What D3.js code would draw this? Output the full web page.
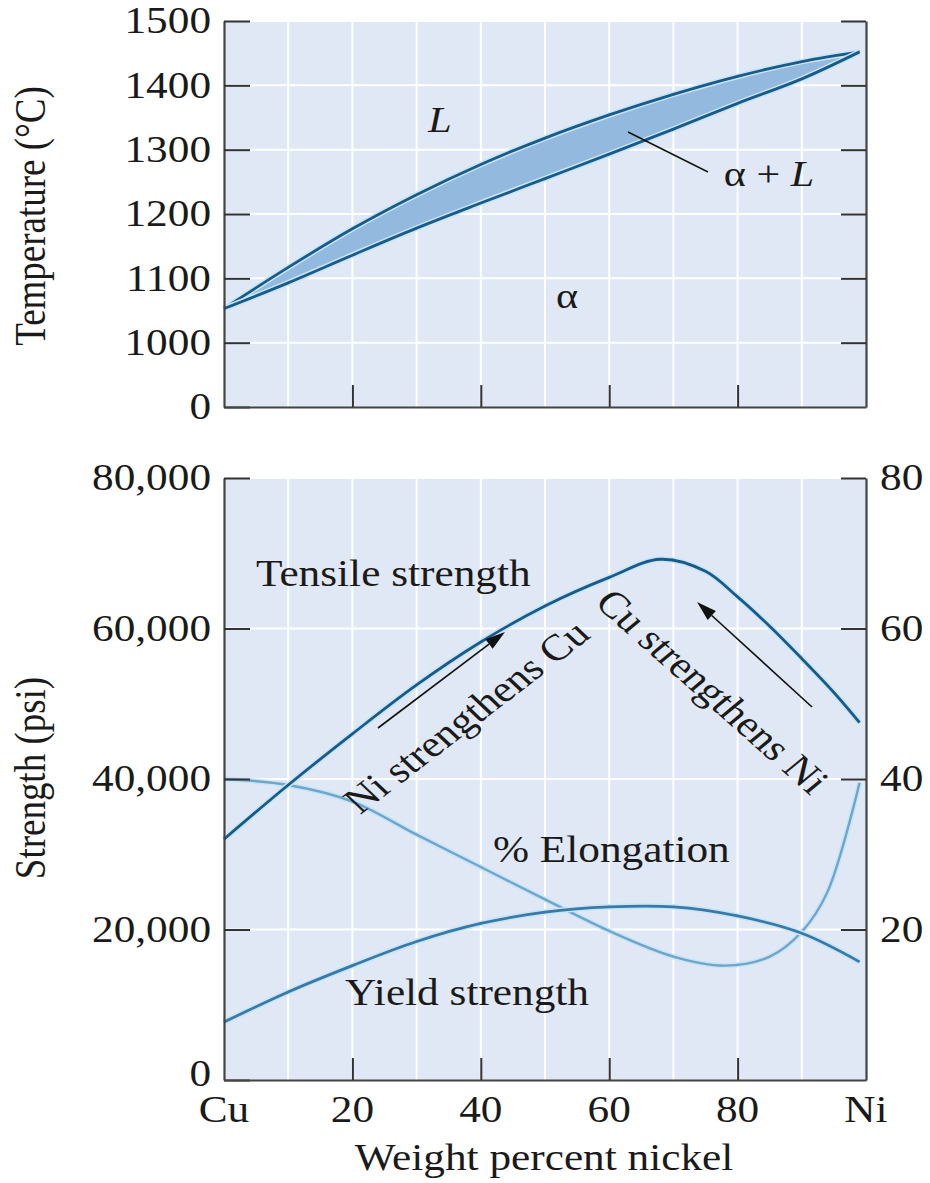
<!DOCTYPE html>
<html lang="en">
<head>
  <meta charset="UTF-8">
  <title>Cu-Ni phase diagram and mechanical properties</title>
  <script src="https://d3js.org/d3.v7.min.js"></script>
  <style>
    body { margin: 0; background: #fff; }
    svg text { font-family: "Liberation Serif", "DejaVu Serif", serif; fill: #1a1a1a; }
  </style>
</head>
<body>
  <svg width="930" height="1183"></svg>

  <script>
    // ---- data ----
    const phasePct = [0, 10, 20, 30, 40, 50, 60, 70, 80, 90, 99];
    const liquidus = [1053, 1117, 1177, 1230, 1277, 1318, 1354, 1386, 1414, 1437, 1452];
    const solidus  = [1053, 1093, 1136, 1178, 1217, 1255, 1293, 1332, 1372, 1410, 1452];

    const tensilePct = [0, 10, 20, 30, 40, 50, 60, 68, 75, 80, 85, 90, 95, 99];
    const tensile    = [32000, 39200, 46000, 52500, 58200, 63000, 66800, 69200, 67600, 64200, 60300, 56000, 51500, 47500];

    const yieldPct = [0, 10, 20, 30, 40, 50, 60, 70, 80, 90, 99];
    const yieldStr = [7700, 11700, 15200, 18400, 20800, 22300, 23000, 23000, 21800, 19500, 15700];

    const elongPct   = [0, 10, 20, 30, 40, 50, 60, 70, 78, 85, 90, 94, 99];
    const elongation = [40, 39.2, 37, 32.6, 28.3, 24, 19.8, 16.4, 15.2, 16.4, 19.7, 25, 39.5];

    const tempTicks   = [900, 1000, 1100, 1200, 1300, 1400, 1500];   // 900 slot is the broken-axis "0"
    const strTicks    = [0, 20000, 40000, 60000, 80000];
    const elongTicks  = [20, 40, 60, 80];
    const nickelTicks = [0, 20, 40, 60, 80, 100];
    const nickelLabels = ["Cu", "20", "40", "60", "80", "Ni"];

    const SX = 1.17;          // the scan is stretched sideways
    const FS = 37;

    const svg = d3.select("svg");

    const x = d3.scaleLinear().domain([0, 100]).range([224, 866]);
    const yT = d3.scaleLinear().domain([900, 1500]).range([407, 21]);
    const yS = d3.scaleLinear().domain([0, 80000]).range([1080, 478]);
    const yE = d3.scaleLinear().domain([0, 80]).range([1080, 478]);

    const smooth = d3.curveCatmullRom.alpha(0.5);

    function label(g, txt, px, py, anchor, rot, size, italic) {
      return g.append("text")
        .attr("transform", `translate(${px},${py}) scale(${SX},1)` + (rot ? ` rotate(${rot})` : ""))
        .attr("text-anchor", anchor || "start")
        .attr("font-size", size || FS)
        .attr("font-style", italic ? "italic" : null)
        .text(txt);
    }

    function panel(yScale, yTicks) {
      const g = svg.append("g");
      const [y0, y1] = yScale.range();
      g.append("rect")
        .attr("x", x(0)).attr("y", y1)
        .attr("width", x(100) - x(0)).attr("height", y0 - y1)
        .attr("fill", "#dfe8f4");
      g.selectAll(".vgrid").data(d3.range(10, 100, 10)).join("line")
        .attr("x1", d => x(d)).attr("x2", d => x(d))
        .attr("y1", y1).attr("y2", y0)
        .attr("stroke", "#fff").attr("stroke-width", 2);
      g.selectAll(".hgrid").data(yTicks.slice(1)).join("line")
        .attr("x1", x(0)).attr("x2", x(100))
        .attr("y1", d => yScale(d)).attr("y2", d => yScale(d))
        .attr("stroke", "#fff").attr("stroke-width", 2);
      return g;
    }

    function axes(g, yScale, yTicks, fmt, rightTicks) {
      const yl = g.append("g").attr("transform", `translate(${x(0)},0)`)
        .call(d3.axisLeft(yScale).tickValues(yTicks).tickSizeInner(-26).tickSizeOuter(0).tickPadding(13).tickFormat(fmt));
      yl.selectAll("text").attr("x", -13 / SX).attr("transform", `scale(${SX},1)`)
        .attr("font-size", FS).attr("font-family", null).attr("fill", "#1a1a1a");

      const yr = g.append("g").attr("transform", `translate(${x(100)},0)`)
        .call(d3.axisRight(rightTicks.scale).tickValues(rightTicks.values).tickSizeInner(-25).tickSizeOuter(0)
          .tickPadding(14).tickFormat(rightTicks.fmt));
      yr.selectAll("text").attr("x", 14 / SX).attr("transform", `scale(${SX},1)`)
        .attr("font-size", FS).attr("font-family", null).attr("fill", "#1a1a1a");

      const xb = g.append("g").attr("transform", `translate(0,${yScale.range()[0]})`)
        .call(d3.axisBottom(x).tickValues([20, 40, 60, 80]).tickSizeInner(-22).tickSizeOuter(0).tickFormat(""));

      [yl, yr, xb].forEach(a => {
        a.select(".domain").attr("stroke", "#444").attr("stroke-width", 2.2);
        a.selectAll(".tick line").attr("stroke", "#333").attr("stroke-width", 2);
      });
      return yl;
    }

    function curve(g, xs, ys, yScale, color, width) {
      const pts = xs.map((d, i) => [d, ys[i]]);
      const line = d3.line().x(d => x(d[0])).y(d => yScale(d[1])).curve(smooth);
      g.append("path").datum(pts).attr("d", line)
        .attr("fill", "none").attr("stroke", "#c5e6f7").attr("stroke-width", width + 3);
      g.append("path").datum(pts).attr("d", line)
        .attr("fill", "none").attr("stroke", color).attr("stroke-width", width);
    }

    function arrow(g, x1, y1, x2, y2) {
      const a = Math.atan2(y2 - y1, x2 - x1), L = 20, W = 6;
      const bx = x2 - L * Math.cos(a), by = y2 - L * Math.sin(a);
      g.append("line").attr("x1", x1).attr("y1", y1).attr("x2", bx).attr("y2", by)
        .attr("stroke", "#111").attr("stroke-width", 1.6);
      g.append("path")
        .attr("d", `M${x2},${y2}L${bx - W * Math.sin(a)},${by + W * Math.cos(a)}L${bx + W * Math.sin(a)},${by - W * Math.cos(a)}Z`)
        .attr("fill", "#111");
    }

    // ---- top: phase diagram ----
    const topG = panel(yT, tempTicks);
    const lens = phasePct.map((d, i) => ({ p: d, lo: solidus[i], hi: liquidus[i] }));
    topG.append("path").datum(lens)
      .attr("d", d3.area().x(d => x(d.p)).y0(d => yT(d.lo)).y1(d => yT(d.hi)).curve(smooth))
      .attr("fill", "#93b9df");
    curve(topG, phasePct, liquidus, yT, "#1b5a88", 2.8);
    curve(topG, phasePct, solidus, yT, "#1b5a88", 2.8);
    axes(topG, yT, tempTicks, d => d === 900 ? "0" : d,
      { scale: yT, values: tempTicks.slice(1), fmt: "" });

    label(topG, "L", 440, 132, "middle", 0, 36, true);
    label(topG, "α", 567, 308, "middle", 0, 36);
    const al = label(topG, "α + ", 769, 186, "middle", 0, 36);
    al.append("tspan").attr("font-style", "italic").text("L");
    topG.append("line").attr("x1", 628).attr("y1", 132).attr("x2", 708).attr("y2", 172)
      .attr("stroke", "#111").attr("stroke-width", 1.5);
    label(topG, "Temperature (°C)", 45, 216, "middle", -90);

    // ---- bottom: strength and elongation ----
    const botG = panel(yS, strTicks);
    curve(botG, elongPct, elongation, yE, "#72a3c9", 2.4);
    curve(botG, yieldPct, yieldStr, yS, "#3a78a8", 2.8);
    curve(botG, tensilePct, tensile, yS, "#1b5a88", 2.8);
    const ylB = axes(botG, yS, strTicks, d3.format(","),
      { scale: yE, values: elongTicks, fmt: d => d });
    // the "0" sits a little above the corner, clear of "Cu"
    ylB.selectAll(".tick").filter(d => d === 0).select("text").attr("y", -6);

    botG.selectAll(".xlab").data(nickelTicks).join("text")
      .attr("transform", d => `translate(${x(d)},1122) scale(${SX},1)`)
      .attr("text-anchor", "middle").attr("font-size", FS)
      .text((d, i) => nickelLabels[i]);

    label(botG, "Tensile strength", 256, 586, "start");
    label(botG, "% Elongation", 493, 862, "start");
    label(botG, "Yield strength", 345, 1005, "start");
    label(botG, "Ni strengthens Cu", 476, 726, "middle", -42);
    label(botG, "Cu strengthens Ni", 702, 700, "middle", 46);
    arrow(botG, 378, 728, 505, 632);
    arrow(botG, 812, 707, 697, 602);

    label(botG, "Strength (psi)", 45, 778, "middle", -90);
    label(botG, "Weight percent nickel", 544, 1170, "middle");
  </script>
</body>
</html>
